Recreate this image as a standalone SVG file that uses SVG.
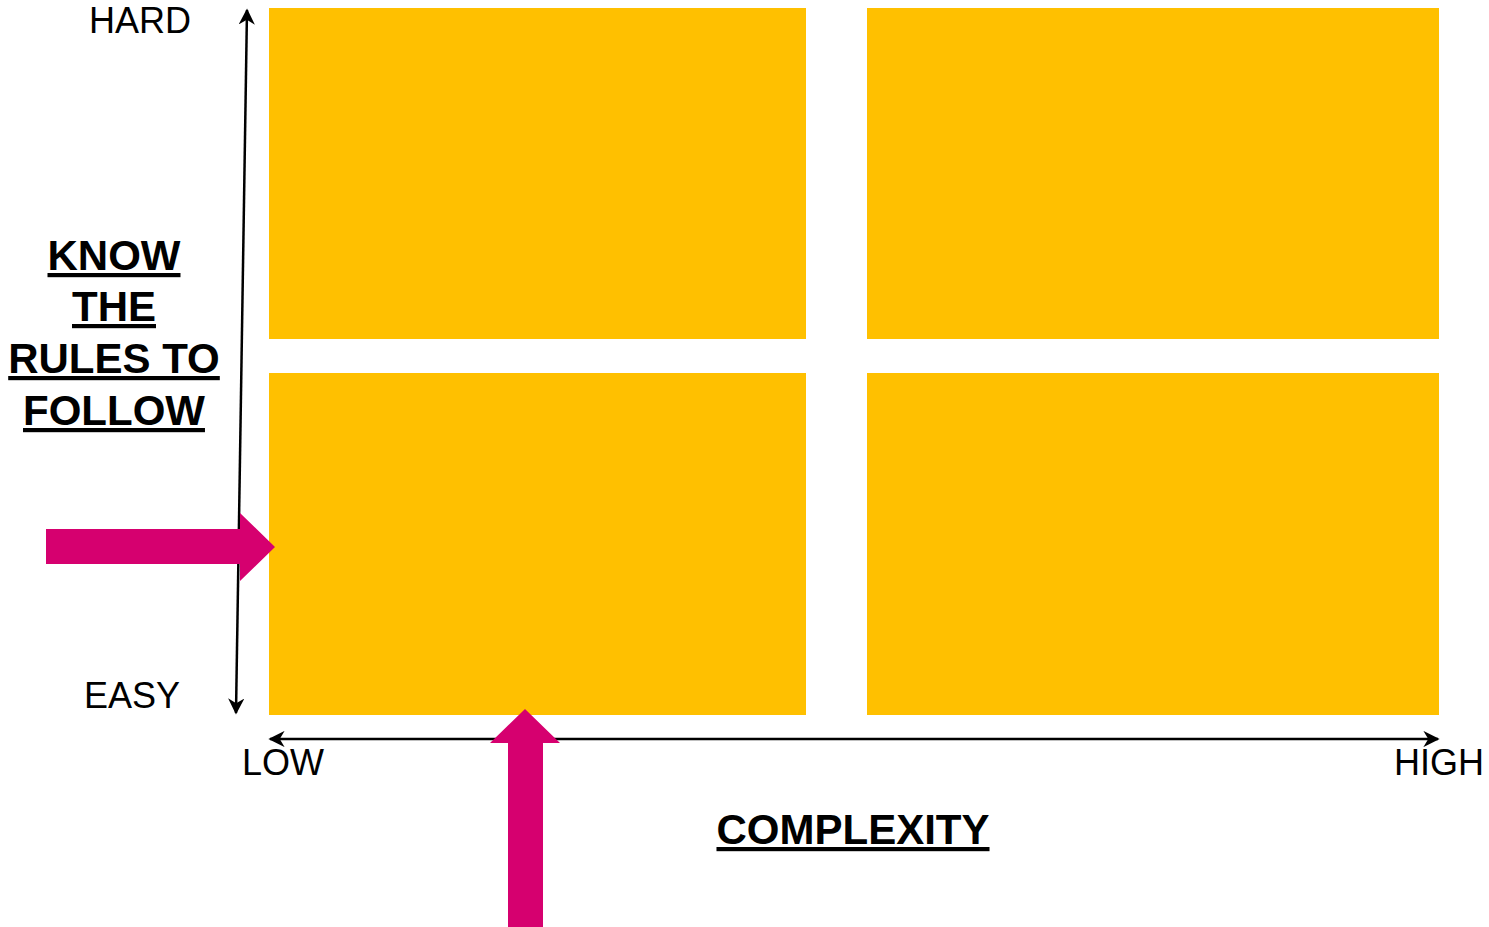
<svg xmlns="http://www.w3.org/2000/svg" width="1489" height="927" viewBox="0 0 1489 927">
  <style>
    .quad { fill: #FFC000; }
    .axis { stroke: #000; stroke-width: 2.5; fill: none; }
    .pointer { fill: #D6006F; }
    .lbl { font-family: "Liberation Sans", Arial, sans-serif; font-size: 36px; fill: #000; }
    .title { font-family: "Liberation Sans", Arial, sans-serif; font-size: 42px; font-weight: bold; fill: #000; text-decoration: underline; text-anchor: middle; }
  </style>
  <defs>
    <marker id="head" viewBox="0 0 10 10" refX="9" refY="5" markerWidth="6.5" markerHeight="6.5" orient="auto-start-reverse" markerUnits="strokeWidth">
      <path d="M0,0 L10,5 L0,10 L3,5 Z" fill="#000"/>
    </marker>
  </defs>

  <!-- quadrants -->
  <g id="quad-top-left"><rect class="quad" x="269" y="8" width="537" height="331"/></g>
  <g id="quad-top-right"><rect class="quad" x="867" y="8" width="572" height="331"/></g>
  <g id="quad-bottom-left"><rect class="quad" x="269" y="373" width="537" height="342"/></g>
  <g id="quad-bottom-right"><rect class="quad" x="867" y="373" width="572" height="342"/></g>

  <!-- axes -->
  <g id="connectors">
    <line class="axis" x1="241.5" y1="362" x2="247" y2="10" marker-end="url(#head)"/>
    <line class="axis" x1="241.5" y1="362" x2="236" y2="713" marker-end="url(#head)"/>
    <line class="axis" x1="270" y1="739" x2="1438" y2="739" marker-start="url(#head)" marker-end="url(#head)"/>
  </g>

  <!-- axis labels -->
  <g id="label-hard"><text class="lbl" x="89" y="33">HARD</text></g>
  <g id="label-easy"><text class="lbl" x="84" y="708">EASY</text></g>
  <g id="label-low"><text class="lbl" x="242" y="775">LOW</text></g>
  <g id="label-high"><text class="lbl" x="1394" y="775">HIGH</text></g>

  <!-- axis titles -->
  <g id="title-rules">
    <text class="title" x="114" y="270">KNOW</text>
    <text class="title" x="114" y="321">THE</text>
    <text class="title" x="114" y="373">RULES TO</text>
    <text class="title" x="114" y="425">FOLLOW</text>
  </g>
  <g id="title-complexity"><text class="title" x="853" y="844">COMPLEXITY</text></g>

  <!-- pointers -->
  <g id="pointer-right"><polygon class="pointer" points="46,529 240,529 240,513 275,547 240,581 240,564 46,564"/></g>
  <g id="pointer-up"><polygon class="pointer" points="508,927 508,743 490,743 525,709 560,743 543,743 543,927"/></g>
</svg>
